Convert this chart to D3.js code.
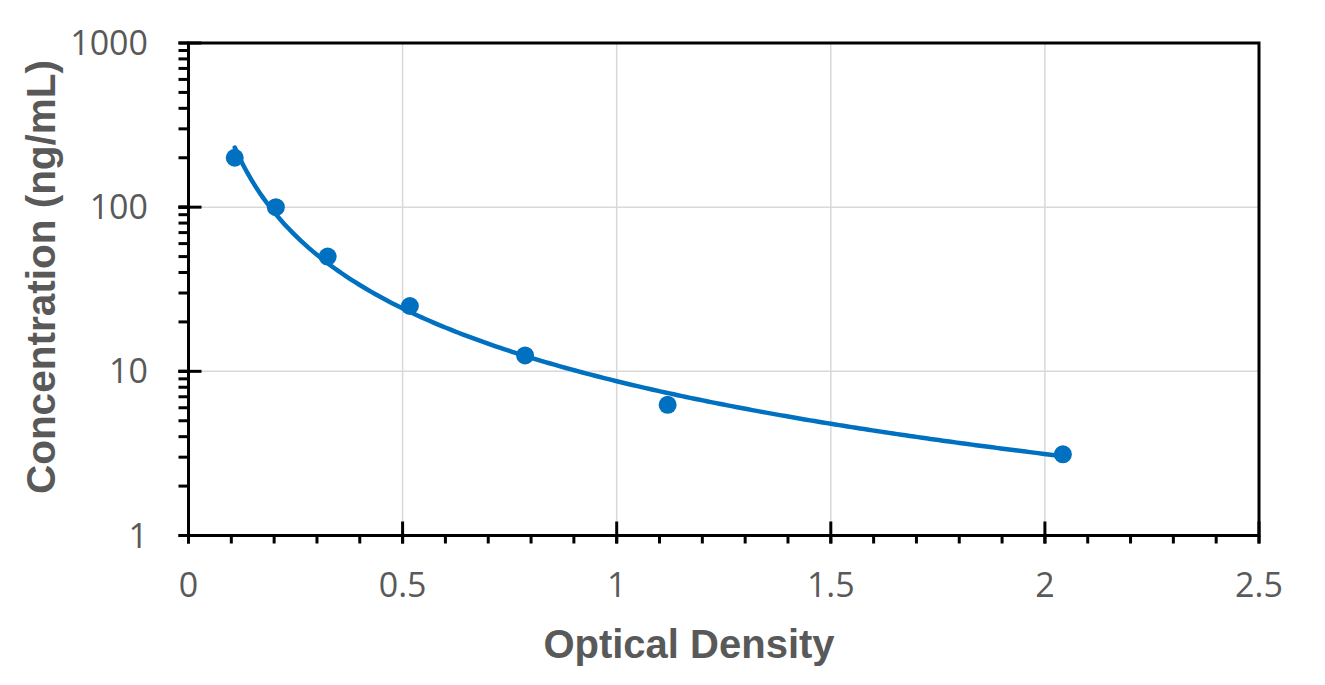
<!DOCTYPE html>
<html>
<head>
<meta charset="utf-8">
<script src="https://cdn.jsdelivr.net/npm/d3@7"></script>
<style>
  body { margin: 0; background: #fff; }
  svg { display: block; }
</style>
</head>
<body>
<svg id="chart" width="1325" height="685"></svg>
<script>
// ---- data ----
const opticalDensity = [0.108, 0.204, 0.325, 0.517, 0.786, 1.119, 2.042];
const concentration = [200, 100, 50, 25, 12.5, 6.25, 3.125];
const xTickValues = [0, 0.5, 1, 1.5, 2, 2.5];
const xTickLabels = ["0", "0.5", "1", "1.5", "2", "2.5"];
const yTickValues = [1, 10, 100, 1000];
const yTickLabels = ["1", "10", "100", "1000"];
const xTitle = "Optical Density";
const yTitle = "Concentration (ng/mL)";

// ---- layout ----
const W = 1325, H = 685;
const L = 188.5, R = 1259, T = 43, B = 535.5;
const blue = "#0070C0", grey = "#595959";

const svg = d3.select("#chart");
const x = d3.scaleLinear().domain([0, 2.5]).range([L, R]);
const y = d3.scaleLog().domain([1, 1000]).range([B, T]);

// gridlines
const g = svg.append("g");
g.selectAll("line.vg").data(xTickValues.filter(v => v > 0 && v < 2.5)).join("line")
  .attr("x1", d => x(d)).attr("x2", d => x(d)).attr("y1", T).attr("y2", B)
  .attr("stroke", "#d9d9d9").attr("stroke-width", 1.5);
g.selectAll("line.hg").data(yTickValues.filter(v => v > 1 && v < 1000)).join("line")
  .attr("x1", L).attr("x2", R).attr("y1", d => y(d)).attr("y2", d => y(d))
  .attr("stroke", "#d9d9d9").attr("stroke-width", 1.5);

// power trendline (least squares on log-log, as the chart's fitted curve)
const lx = opticalDensity.map(Math.log), ly = concentration.map(Math.log);
const mx = d3.mean(lx), my = d3.mean(ly);
const b = d3.sum(lx.map((v, i) => (v - mx) * (ly[i] - my))) / d3.sum(lx.map(v => (v - mx) ** 2));
const a = Math.exp(my - b * mx);
const x0 = d3.min(opticalDensity), x1 = d3.max(opticalDensity);
const fit = d3.range(0, 201).map(i => {
  const xv = x0 + (x1 - x0) * i / 200;
  return [xv, a * Math.pow(xv, b)];
});
svg.append("path").datum(fit)
  .attr("d", d3.line().x(d => x(d[0])).y(d => y(d[1])).curve(d3.curveLinear))
  .attr("fill", "none").attr("stroke", blue).attr("stroke-width", 4.5).attr("stroke-linecap", "round");

// points
svg.selectAll("circle.pt").data(opticalDensity).join("circle")
  .attr("cx", d => x(d)).attr("cy", (d, i) => y(concentration[i])).attr("r", 9)
  .attr("fill", blue);

// x axis minor & major ticks
const xMinor = d3.range(0, 26).map(i => i / 10);
svg.selectAll("line.xmin").data(xMinor).join("line")
  .attr("x1", d => x(d)).attr("x2", d => x(d)).attr("y1", B).attr("y2", B + 8)
  .attr("stroke", "#000").attr("stroke-width", 3);
svg.selectAll("line.xmaj").data(xTickValues).join("line")
  .attr("x1", d => x(d)).attr("x2", d => x(d)).attr("y1", B - 14).attr("y2", B + 8)
  .attr("stroke", "#000").attr("stroke-width", 3);

// y axis minor & major ticks
const yMinor = [];
[1, 10, 100].forEach(dec => { for (let k = 1; k <= 10; k++) yMinor.push(dec * k); });
svg.selectAll("line.ymin").data(yMinor).join("line")
  .attr("x1", L - 10).attr("x2", L).attr("y1", d => y(d)).attr("y2", d => y(d))
  .attr("stroke", "#000").attr("stroke-width", 3);
svg.selectAll("line.ymaj").data(yTickValues).join("line")
  .attr("x1", L - 10).attr("x2", L + 13).attr("y1", d => y(d)).attr("y2", d => y(d))
  .attr("stroke", "#000").attr("stroke-width", 3);

// frame
svg.append("rect").attr("x", L).attr("y", T).attr("width", R - L).attr("height", B - T)
  .attr("fill", "none").attr("stroke", "#000").attr("stroke-width", 3);

// tick labels
const fontTick = "'Open Sans', 'Liberation Sans', sans-serif";
svg.selectAll("text.xl").data(xTickValues).join("text")
  .attr("x", d => x(d)).attr("y", 597)
  .attr("text-anchor", "middle").attr("font-family", fontTick).attr("font-size", 34)
  .attr("fill", grey).text((d, i) => xTickLabels[i]);
svg.selectAll("text.yl").data(yTickValues).join("text")
  .attr("x", 148).attr("y", d => y(d) + 12)
  .attr("text-anchor", "end").attr("font-family", fontTick).attr("font-size", 34)
  .attr("fill", grey).text((d, i) => yTickLabels[i]);

// axis titles
const fontTitle = "'Liberation Sans', Arial, sans-serif";
svg.append("text").attr("x", 689).attr("y", 658)
  .attr("text-anchor", "middle").attr("font-family", fontTitle).attr("font-weight", "bold")
  .attr("font-size", 40).attr("fill", grey).text(xTitle);
svg.append("text").attr("transform", "translate(55,277) rotate(-90)")
  .attr("text-anchor", "middle").attr("font-family", fontTitle).attr("font-weight", "bold")
  .attr("font-size", 40.5).attr("fill", grey).text(yTitle);
</script>
</body>
</html>
